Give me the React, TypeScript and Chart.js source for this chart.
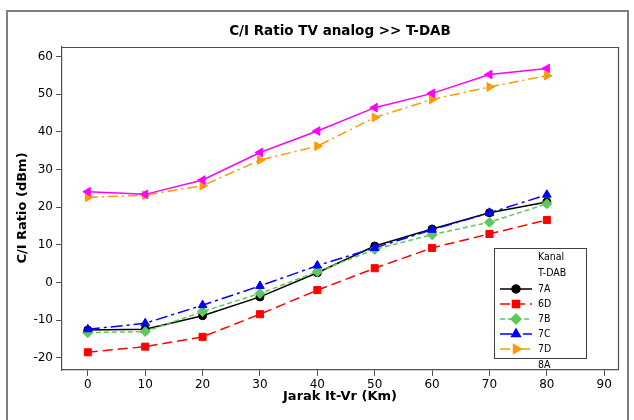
import React, { useEffect, useRef } from "react";
import { Chart, registerables } from "chart.js";
import { drawPoint } from "chart.js/helpers";

Chart.register(...registerables);

const distances = [0, 10, 20, 30, 40, 50, 60, 70, 80];
const xTicks = [0, 10, 20, 30, 40, 50, 60, 70, 80, 90];
const yTicks = [-20, -10, 0, 10, 20, 30, 40, 50, 60];

const kanal7A = [-12.6, -12.4, -8.8, -3.8, 2.6, 9.7, 14.2, 18.5, 21.4];
const kanal6D = [-18.5, -17.0, -14.4, -8.4, -2.0, 3.8, 9.2, 12.9, 16.6];
const kanal7B = [-13.3, -13.0, -7.7, -2.9, 2.9, 8.8, 12.7, 16.0, 20.9];
const kanal7C = [-12.4, -10.8, -6.0, -0.9, 4.5, 9.2, 14.0, 18.5, 23.3];
const kanal7D = [22.6, 23.2, 25.7, 32.5, 36.2, 43.8, 48.6, 51.9, 54.9];
const kanal8A = [24.1, 23.4, 27.2, 34.5, 40.2, 46.4, 50.2, 55.2, 56.8];

const chartTitle = "C/I Ratio TV analog >> T-DAB";
const xTitle = "Jarak It-Vr (Km)";
const yTitle = "C/I Ratio (dBm)";
const legendTitle = ["Kanal", "T-DAB"];

const FONT = '"DejaVu Sans", sans-serif';
const FONT_C = '"DejaVu Sans Condensed", "DejaVu Sans", sans-serif';

const seriesDefs = [
  { label: "7A", data: kanal7A, color: "#000000", dash: [], style: "circle", rot: 0, r: 4, order: 6 },
  { label: "6D", data: kanal6D, color: "#ff0000", dash: [10, 5], style: "rect", rot: 0, r: 5, order: 5 },
  { label: "7B", data: kanal7B, color: "#5ec85e", dash: [5, 3], style: "rectRot", rot: 0, r: 5, order: 4 },
  { label: "7C", data: kanal7C, color: "#0000ff", dash: [12, 4, 3, 4], style: "triangle", rot: 0, r: 5, order: 3 },
  { label: "7D", data: kanal7D, color: "#ff9900", dash: [10, 4, 2, 4], style: "triangle", rot: 90, r: 5, order: 2 },
  { label: "8A", data: kanal8A, color: "#ff00ff", dash: [], style: "triangle", rot: -90, r: 5, order: 1 },
];

const decorPlugin = {
  id: "decor",
  beforeDraw(chart: any) {
    const ctx = chart.ctx;
    ctx.save();
    ctx.fillStyle = "#ffffff";
    ctx.fillRect(0, 0, chart.width, chart.height);
    ctx.strokeStyle = "#7f7f7f";
    ctx.lineWidth = 2;
    ctx.strokeRect(7, 11, 621, 600);
    ctx.restore();
  },
  afterDraw(chart: any) {
    const ctx = chart.ctx;
    const a = chart.chartArea;
    ctx.save();
    ctx.strokeStyle = "#505050";
    ctx.lineWidth = 1.2;
    ctx.beginPath();
    ctx.moveTo(a.left, a.top + 0.5);
    ctx.lineTo(a.right + 0.5, a.top + 0.5);
    ctx.lineTo(a.right + 0.5, a.bottom);
    ctx.stroke();

    ctx.fillStyle = "#000";
    ctx.textAlign = "center";
    ctx.textBaseline = "middle";
    ctx.font = "bold 13.5px " + FONT;
    ctx.fillText(chartTitle, (a.left + a.right) / 2, 31);
    ctx.font = "bold 13px " + FONT;
    ctx.fillText(xTitle, (a.left + a.right) / 2, 397);
    ctx.save();
    ctx.translate(23, 208);
    ctx.rotate(-Math.PI / 2);
    ctx.fillText(yTitle, 0, 0);
    ctx.restore();

    const bx = 494.5, by = 248.5, bw = 92, bh = 110;
    ctx.fillStyle = "#fff";
    ctx.fillRect(bx, by, bw, bh);
    ctx.strokeStyle = "#404040";
    ctx.lineWidth = 1;
    ctx.strokeRect(bx, by, bw, bh);
    ctx.fillStyle = "#000";
    ctx.textAlign = "left";
    ctx.font = "10.5px " + FONT_C;
    ctx.fillText(legendTitle[0], 538, 257);
    ctx.fillText(legendTitle[1], 538, 273);
    const rows = [289, 304, 319, 334, 349, 365];
    seriesDefs.forEach((s, i) => {
      const y = rows[i];
      ctx.fillStyle = "#000";
      ctx.fillText(s.label, 538, y);
      if (y < by + bh) {
        ctx.save();
        ctx.strokeStyle = s.color;
        ctx.lineWidth = 1.5;
        ctx.setLineDash(s.dash);
        ctx.beginPath();
        ctx.moveTo(500, y);
        ctx.lineTo(532, y);
        ctx.stroke();
        ctx.setLineDash([]);
        ctx.fillStyle = s.color;
        ctx.strokeStyle = s.color;
        drawPoint(ctx, { pointStyle: s.style, radius: s.r, rotation: s.rot, borderWidth: 1 } as any, 516, y);
        ctx.restore();
      }
    });
    ctx.restore();
  },
};

export default function App() {
  const ref = useRef<HTMLCanvasElement>(null);
  useEffect(() => {
    if (!ref.current) return;
    const chart = new Chart(ref.current, {
      type: "line",
      data: {
        datasets: seriesDefs.map((s) => ({
          label: s.label,
          data: s.data.map((v, i) => ({ x: distances[i], y: v })),
          borderColor: s.color,
          backgroundColor: s.color,
          borderWidth: 1.5,
          borderDash: s.dash,
          pointStyle: s.style as any,
          pointRotation: s.rot,
          pointRadius: s.r,
          pointBorderWidth: 1,
          tension: 0,
          order: s.order,
        })),
      },
      options: {
        animation: false,
        responsive: false,
        events: [],
        layout: { padding: { top: 47, right: 16, left: 0, bottom: 0 } },
        plugins: { legend: { display: false }, title: { display: false }, tooltip: { enabled: false } },
        scales: {
          x: {
            type: "linear",
            min: -4.5,
            max: 92.4,
            afterFit: (s: any) => { s.height = 50; },
            afterBuildTicks: (s: any) => { s.ticks = xTicks.map((v) => ({ value: v })); },
            grid: { drawOnChartArea: false, drawTicks: true, tickLength: 6, color: "#505050", lineWidth: 1 },
            border: { display: true, color: "#505050", width: 1.2 },
            ticks: { color: "#000", font: { family: FONT, size: 12 }, padding: 2, maxRotation: 0, autoSkip: false },
          },
          y: {
            type: "linear",
            min: -23.2,
            max: 62.5,
            afterFit: (s: any) => { s.width = 62; },
            afterBuildTicks: (s: any) => { s.ticks = yTicks.map((v) => ({ value: v })); },
            grid: { drawOnChartArea: false, drawTicks: true, tickLength: 6, color: "#505050", lineWidth: 1 },
            border: { display: true, color: "#505050", width: 1.2 },
            ticks: { color: "#000", font: { family: FONT, size: 12 }, padding: 3, autoSkip: false },
          },
        },
      },
      plugins: [decorPlugin],
    });
    return () => chart.destroy();
  }, []);
  return (
    <div style={{ position: "fixed", left: 0, top: 0, width: 634, height: 420, background: "#fff" }}>
      <canvas ref={ref} width={634} height={420} style={{ display: "block" }} />
    </div>
  );
}
